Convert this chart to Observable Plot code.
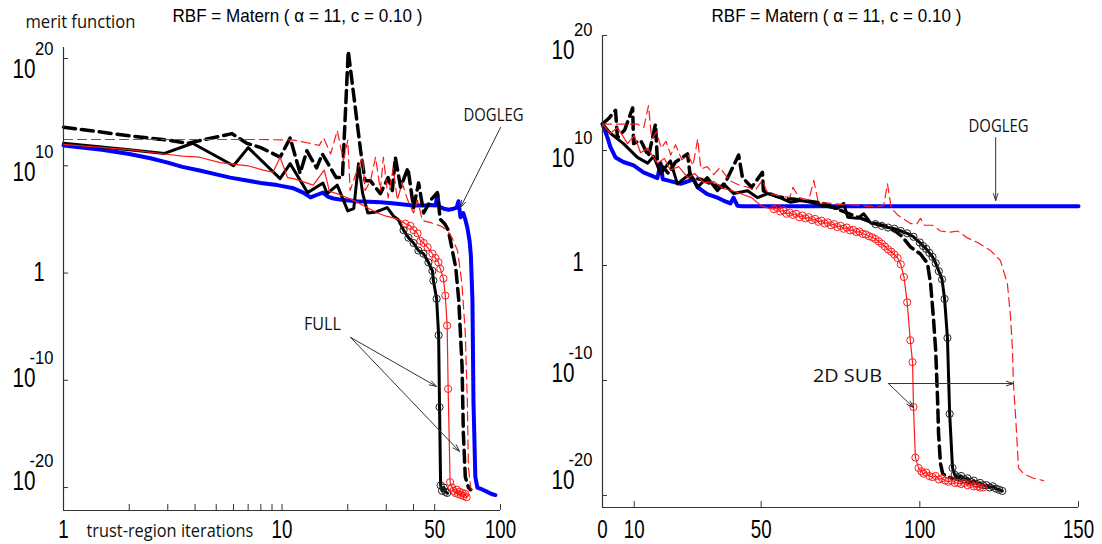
<!DOCTYPE html>
<html><head><meta charset="utf-8">
<script src="https://cdn.jsdelivr.net/npm/d3@7"></script>
<script src="https://cdn.jsdelivr.net/npm/@observablehq/plot@0.6"></script>
<style>
body{margin:0;background:#fff;}
#wrap{display:flex;width:1102px;height:544px;overflow:hidden;}
</style></head><body><div id="wrap"></div>
<script>
// ---------- data: [iteration, log10(merit function)] ----------
const leftBlue = [[1,11.9],[1.5,11.5],[2,11.1],[2.5,10.7],[3,10.3],[3.5,9.9],[4.2,9.56],[5,9.2],[5.8,8.9],[7,8.6],[8,8.4],[9.5,8.2],[11.3,7.9],[12.5,7.5],[13.5,7.05],[14.5,7.3],[15.4,7.5],[16.3,7.1],[17.2,6.95],[19.1,6.8],[22,6.7],[25,6.65],[28.2,6.6],[32,6.5],[36,6.4],[40,6.3],[45,6.3],[48,6.35],[50.5,6.3],[51.4,7.4],[52.3,6.2],[55,6.0],[58,5.9],[61,6.0],[63,6.1],[64.2,6.7],[65.6,5.2],[67.5,5.6],[69,5.0],[70.5,4.25],[72.2,3.0],[73.2,1.6],[74.4,-2.5],[75.2,-11.9],[76.7,-19.0],[78.4,-20.0],[83,-20.2],[87,-20.4],[91,-20.6],[94.8,-20.7]];
const leftBlackSolid = [[1,12.1],[2,11.5],[2.9,11.15],[3.9,12.1],[6,10.0],[7,11.7],[9.8,8.8],[10.9,10.2],[13.1,7.5],[15.4,8.4],[16.1,7.4],[17.9,8.2],[20,5.8],[21.3,6.0],[22.4,10.2],[23.4,7.4],[24.7,5.6],[27,5.7],[30.3,6.1],[32.4,5.3],[34,5.0],[36,4.0],[37.9,3.3],[40,2.8],[42.1,2.1],[44.4,1.8],[46.8,1.0],[48.8,0.2],[49.3,-0.7],[51,-2.4],[52.1,-5.8],[52.6,-12.5],[53.2,-19.8],[54,-20.3],[55,-20.0],[56,-20.4],[57,-20.5]];
const leftBlackDashed = [[1,13.6],[2,12.8],[3,12.4],[3.7,12.1],[5.9,13.0],[6.9,12.1],[8,11.7],[9.8,10.8],[10.9,12.6],[12.1,9.3],[13,11.4],[14.4,9.8],[15.3,11.1],[17.7,8.9],[18.9,8.9],[20.1,20.7],[22.9,11.4],[24,8.6],[25.4,8.6],[28.2,7.4],[30.6,8.9],[32,7.7],[33,10.8],[34.9,8.0],[37.7,9.8],[40,6.1],[42.2,8.4],[44.5,5.6],[47.9,6.8],[51.4,7.5],[53,5.0],[55.5,4.6],[57.7,4.0],[62.4,0.5],[64.4,-2.5],[66.7,-8.7],[67.6,-14.9],[69,-19.0],[71.3,-20.0],[72.9,-20.2]];
const leftRedSolid = [[1,12.0],[2,11.5],[2.9,11.1],[3.5,10.9],[4.2,10.8],[5.2,10.3],[7,10.0],[8.2,9.6],[9.1,9.4],[9.8,10.8],[10.6,8.9],[11.3,8.8],[13.9,8.2],[15.6,9.6],[16.5,7.6],[17.9,7.4],[21.2,6.8],[24,6.2],[27.3,5.6],[30,5.3],[33,5.1],[35,4.9],[36.7,4.6],[38.7,4.4],[40,4.0],[41.7,3.7],[43,3.0],[44.5,2.8],[46.4,2.4],[48.8,1.8],[50.4,1.4],[52,1.0],[53,0.4],[54.8,-0.5],[55.9,-2.1],[57,-4.9],[57.6,-10.8],[58.8,-19.5],[60,-20.0],[61,-20.3],[62,-20.5],[63,-20.2],[64,-20.6],[65,-20.4],[66,-20.7],[67,-20.5],[68,-20.8],[69,-20.6],[70,-20.9]];
const leftRedDashed = [[1,12.45],[4,12.45],[8,12.45],[11.3,12.4],[13,12.15],[14.8,11.9],[15.5,12.6],[16.7,11.1],[17.9,13.3],[19.1,10.5],[20,12.4],[20.5,7.7],[22,9.5],[23.4,10.8],[24,7.7],[25.4,8.6],[26.8,10.8],[28.2,7.7],[29.1,10.8],[30.6,7.0],[32.3,9.8],[33.7,6.8],[35.5,8.4],[37.6,6.8],[40,5.6],[41.7,6.8],[43.9,4.9],[48,4.7],[53,4.4],[57,4.0],[60,3.3],[63.6,2.1],[66.6,-1.0],[69,-5.6],[70.5,-11.9],[71.3,-18.1],[73,-20.0],[74.4,-20.2]];

const rightBlue = [[0,12.3],[1.6,11.1],[2.5,10.3],[4.1,9.4],[6.6,9.0],[9.8,8.7],[12.9,8.1],[17.3,7.6],[18.3,8.9],[19,7.5],[20.5,7.4],[24.6,7.1],[28.7,7.5],[30,6.8],[33,6.2],[36.2,5.9],[38.1,5.65],[40.3,5.4],[41.3,5.9],[42.5,5.2],[44,5.15],[100,5.15],[150,5.15]];
const rightBlackSolid = [[0,12.3],[2.5,11.5],[6.6,10.6],[11,9.4],[14.2,8.9],[16.1,9.5],[18.3,8.0],[21.4,9.1],[23.6,7.1],[27.7,8.0],[29.9,6.8],[33,7.65],[36.2,6.5],[38.1,7.1],[41.3,6.26],[45.7,6.5],[48.9,5.9],[52,6.26],[55.2,6.0],[59.3,5.5],[62.4,5.65],[65.6,5.5],[69.6,5.2],[74.1,4.96],[76,5.4],[77.3,4.2],[80.4,4.1],[82.3,4.5],[84.5,3.7],[86,3.6],[88,3.45],[90,3.3],[92,3.2],[94,3.0],[96,2.8],[98,2.5],[100,2.0],[101,1.7],[102,1.45],[103,1.1],[104,0.75],[105,0.2],[106,-0.5],[107,-1.2],[107.8,-2.9],[108.7,-6.3],[109.4,-12.9],[110.3,-17.6],[111,-18.2],[112,-18.4],[113,-18.3],[114,-18.6],[115,-18.5],[116,-18.8],[117,-18.7],[118,-19.0],[119,-18.9],[120,-19.1],[121,-19.1],[122,-19.3],[123,-19.2],[124,-19.4],[125,-19.5],[126,-19.6]];
const rightBlackDashed = [[0,12.3],[2,12.8],[4.1,13.5],[4.7,11.1],[7,11.8],[9.5,13.7],[9.8,10.6],[12,10.9],[14.5,9.5],[16.7,12.3],[17.3,9.1],[20.8,8.0],[23,9.0],[26.8,9.7],[27.7,7.65],[31,7.5],[35,7.0],[38,6.8],[42.9,9.6],[44.1,7.65],[47,6.8],[50.4,8.1],[50.7,6.5],[55,6.0],[59.3,5.8],[65,5.6],[69.6,5.4],[74.9,4.8],[80.4,4.2],[85.4,3.7],[90.8,3.3],[94.5,2.5],[97.1,1.6],[100.2,1.0],[102.4,0.2],[103.4,-1.6],[104.3,-4.6],[105,-7.4],[105.6,-11.7],[105.9,-14.6],[106.5,-17.2],[107.2,-18.1],[108.7,-18.4],[112,-18.6],[116,-18.9]];
const rightRedSolid = [[0,12.3],[2.5,11.5],[4.7,12.0],[7.9,10.6],[10,11.3],[12,9.8],[14.2,10.2],[17.3,8.9],[19.5,9.3],[21.4,8.3],[24,8.6],[27,7.6],[29,8.0],[32,7.2],[35,7.3],[38,6.7],[41,6.5],[44,6.2],[47,5.9],[50,5.2],[52,5.0],[54,4.9],[55,5.0],[56,4.7],[57,4.8],[58,4.5],[59,4.6],[60,4.4],[61,4.5],[62,4.2],[63,4.35],[64,4.1],[65,4.2],[66,3.95],[67,4.05],[68,3.8],[69,3.9],[70,3.65],[71,3.75],[72,3.5],[73,3.6],[74,3.35],[75,3.45],[76,3.2],[77,3.3],[78,3.05],[79,3.1],[80,2.9],[81,2.95],[82,2.75],[83,2.7],[84,2.55],[85,2.45],[86,2.3],[87,2.1],[88,1.9],[89,1.65],[90,1.4],[91,1.2],[92,0.95],[93,0.65],[94,0.1],[95,-1.0],[96,-3.2],[97,-6.5],[97.7,-8.4],[98,-12.3],[98.6,-16.7],[99.6,-17.6],[100.5,-17.9],[101.2,-18.1],[102,-18.0],[103,-18.3],[104,-18.4],[105,-18.3],[106,-18.6],[107,-18.5],[108,-18.7],[109,-18.8],[110,-18.7],[111,-18.9],[112,-18.9],[113,-19.0],[114,-18.9],[115,-19.1],[116,-19.0],[117,-19.2],[118,-19.2],[119,-19.3],[120,-19.3]];
const rightRedDashed = [[0,12.3],[3,12.3],[7,12.3],[11,12.3],[13,12.0],[14.5,13.9],[15.5,11.0],[17,11.6],[18.5,10.2],[20,10.8],[21.5,9.6],[23,10.5],[25,9.2],[27,9.6],[28.5,8.7],[30,11.0],[31,8.4],[33,8.6],[35,7.9],[37,8.5],[40,7.4],[43,7.0],[46,6.8],[48,6.5],[50.4,7.4],[52,6.3],[55,6.1],[59,5.9],[60,6.8],[62,5.9],[65,5.7],[66.6,7.4],[68,5.5],[72,5.4],[76,5.3],[80,5.25],[86,5.1],[88.6,5.2],[89.8,7.1],[91,5.0],[93,4.4],[97.1,3.65],[99,3.6],[100.2,4.1],[101.5,3.5],[104,3.5],[106.5,3.0],[109.7,2.9],[111.9,3.0],[115,2.4],[118.2,2.0],[122.3,1.3],[125.4,0.43],[127.6,-1.6],[128.6,-4.5],[129.2,-7.4],[129.5,-10.3],[130.2,-13.2],[130.8,-16.1],[131.1,-17.6],[132.7,-18.1],[135.8,-18.5],[139,-18.7]];

// ---------- ticks & labels ----------
const titleText = "RBF = Matern ( \u03b1 = 11, c = 0.10 )";
const yTicks = [20, 10, 0, -10, -20];
const yExpTicks = [20, 10, -10, -20];
const leftXTicks = [2,3,4,5,6,7,8,9,10,20,30,40,50,100];
const leftXLabels = [1, 10, 50, 100];
const rightXTicks = [10, 50, 100, 150];
const rightXLabels = [0, 10, 50, 100, 150];

// ---------- annotations (data coordinates) ----------
const leftNotes = [{label: "DOGLEG", x: 92.9, y: 14.22}, {label: "FULL", x: 15.3, y: -5.35}];
const leftArrows = [{x1: 100, y1: 13.57, x2: 65.6, y2: 6.11}, {x1: 20.6, y1: -6.0, x2: 50.9, y2: -10.57}, {x1: 20.6, y1: -6.0, x2: 64.9, y2: -16.63}];
const rightNotes = [{label: "DOGLEG", x: 124.8, y: 11.57}, {label: "2D SUB", x: 77.2, y: -10.1}];
const rightArrows = [{x1: 123.9, y1: 11.13, x2: 123.9, y2: 5.65}, {x1: 90.1, y1: -10.26, x2: 129.5, y2: -10.26}, {x1: 90.1, y1: -10.26, x2: 98, y2: -12.35}];

const noteWidths = {"DOGLEG": 60, "FULL": 37, "2D SUB": 69};
const sans = "'Liberation Sans', Arial, sans-serif";
const open = "'Open Sans', 'Noto Sans', sans-serif";
const axisColor = "#333";

function seriesMarks(bs, bd, rs, rd, bl, bCirc, rCirc) {
  const X = d => d[0], Y = d => d[1];
  return [
    Plot.line(bl, {x: X, y: Y, stroke: "#0000ff", strokeWidth: 4}),
    Plot.line(bd, {x: X, y: Y, stroke: "#000", strokeWidth: 3.5, strokeDasharray: "12,6"}),
    Plot.line(bs, {x: X, y: Y, stroke: "#000", strokeWidth: 3}),
    Plot.dot(bs.filter(d => d[0] >= bCirc), {x: X, y: Y, r: 3.6, stroke: "#222", strokeWidth: 1, fill: "none"}),
    Plot.line(rd, {x: X, y: Y, stroke: "#ff1a1a", strokeWidth: 1.2, strokeDasharray: "9,5"}),
    Plot.line(rs, {x: X, y: Y, stroke: "#ff1a1a", strokeWidth: 1.2}),
    Plot.dot(rs.filter(d => d[0] >= rCirc), {x: X, y: Y, r: 3.6, stroke: "#ff1a1a", strokeWidth: 1, fill: "none"})
  ];
}

function yLabelMarks(k, c) {
  const pos = d => k * d + c;
  return [
    Plot.text(yExpTicks, {y: pos, text: () => "10", frameAnchor: "left", textAnchor: "end", lineAnchor: "bottom", dx: -28, fontSize: 28, fill: "#000", ariaLabel: () => "ybase"}),
    Plot.text(yExpTicks, {y: pos, text: d => String(d), frameAnchor: "left", textAnchor: "end", lineAnchor: "bottom", dx: -10, dy: -23, fontSize: 18, fill: "#000", ariaLabel: () => "yexp"}),
    Plot.text([0], {y: pos, text: () => "1", frameAnchor: "left", textAnchor: "end", lineAnchor: "bottom", dx: -19, dy: -3, fontSize: 27, fill: "#000", ariaLabel: () => "yone"})
  ];
}

// ---------- left panel ----------
const LY0 = -22.14, LY1 = 21.03;
const left = Plot.plot({
  width: 551, height: 544,
  marginLeft: 63, marginRight: 51, marginTop: 47, marginBottom: 34,
  style: {fontFamily: sans, background: "white", overflow: "visible"},
  x: {type: "log", domain: [1, 100], axis: null},
  y: {domain: [LY0, LY1], axis: null},
  marks: [
    ...seriesMarks(leftBlackSolid, leftBlackDashed, leftRedSolid, leftRedDashed, leftBlue, 36, 36.5),
    Plot.ruleX([1], {stroke: axisColor, strokeWidth: 1.2}),
    Plot.ruleY([LY0], {stroke: axisColor, strokeWidth: 1.2}),
    Plot.ruleX(leftXTicks, {y1: LY0, y2: LY0, insetBottom: 6, stroke: axisColor}),
    Plot.ruleY(yTicks, {x1: 1, x2: 1, insetLeft: 5, stroke: axisColor}),
    Plot.text(leftXLabels, {x: d => d, text: d => String(d), frameAnchor: "bottom", lineAnchor: "bottom", dy: 27, fontSize: 26, fill: "#000", ariaLabel: () => "xlab"}),
    ...yLabelMarks(0.96, -1.03),
    Plot.arrow(leftArrows, {x1: "x1", y1: "y1", x2: "x2", y2: "y2", stroke: "#333", strokeWidth: 1, headLength: 11, headAngle: 36}),
    Plot.text(leftNotes, {x: "x", y: "y", text: "label", lineAnchor: "bottom", fontSize: 19, fontFamily: open, fill: "#111", ariaLabel: () => "notes"}),
    Plot.text([titleText], {frameAnchor: "top-left", textAnchor: "start", lineAnchor: "bottom", dx: 109, dy: -26, fontSize: 19, fill: "#000", ariaLabel: () => "title"}),
    Plot.text(["merit function"], {frameAnchor: "top-left", textAnchor: "start", lineAnchor: "bottom", dx: -38, dy: -20, fontSize: 19, fontFamily: open, fill: "#111", ariaLabel: () => "ylabel"}),
    Plot.text(["trust-region iterations"], {frameAnchor: "bottom-left", textAnchor: "start", lineAnchor: "bottom", dx: 23, dy: 26, fontSize: 19, fontFamily: open, fill: "#111", ariaLabel: () => "xlabel"})
  ]
});

// ---------- right panel ----------
const RY0 = -21.04, RY1 = 20;
const right = Plot.plot({
  width: 551, height: 544,
  marginLeft: 51, marginRight: 24, marginTop: 35, marginBottom: 37,
  style: {fontFamily: sans, background: "white", overflow: "visible"},
  x: {domain: [0, 150], axis: null},
  y: {domain: [RY0, RY1], axis: null},
  marks: [
    ...seriesMarks(rightBlackSolid, rightBlackDashed, rightRedSolid, rightRedDashed, rightBlue, 86, 54),
    Plot.ruleX([0], {stroke: axisColor, strokeWidth: 1.2}),
    Plot.ruleY([RY0], {stroke: axisColor, strokeWidth: 1.2}),
    Plot.ruleX(rightXTicks, {y1: RY0, y2: RY0, insetBottom: 6, stroke: axisColor}),
    Plot.ruleY(yTicks, {x1: 0, x2: 0, insetLeft: 5, stroke: axisColor}),
    Plot.text(rightXLabels, {x: d => d, text: d => String(d), frameAnchor: "bottom", lineAnchor: "bottom", dy: 30, fontSize: 26, fill: "#000", ariaLabel: () => "xlab"}),
    ...yLabelMarks(0.935, -0.77),
    Plot.arrow(rightArrows, {x1: "x1", y1: "y1", x2: "x2", y2: "y2", stroke: "#333", strokeWidth: 1, headLength: 11, headAngle: 36}),
    Plot.text(rightNotes, {x: "x", y: "y", text: "label", lineAnchor: "bottom", fontSize: 19, fontFamily: open, fill: "#111", ariaLabel: () => "notes"}),
    Plot.text([titleText], {frameAnchor: "top-left", textAnchor: "start", lineAnchor: "bottom", dx: 109, dy: -14, fontSize: 19, fill: "#000", ariaLabel: () => "title"})
  ]
});

const wrap = document.getElementById("wrap");
wrap.appendChild(left);
wrap.appendChild(right);

// horizontal condensing of text (the reference typography is narrow)
function scaleText(t, f) {
  const tr = t.getAttribute("transform");
  if (tr) t.setAttribute("transform", tr + ` scale(${f},1)`);
  else {
    const x = +t.getAttribute("x") || 0;
    t.setAttribute("transform", `translate(${x},0) scale(${f},1) translate(${-x},0)`);
  }
}
function textsOf(svg, label) {
  return [...svg.querySelectorAll(`[aria-label="${label}"]`)]
    .flatMap(e => e.tagName.toLowerCase() === "text" ? [e] : [...e.querySelectorAll("text")]);
}
function squeeze(svg, label, f) {
  textsOf(svg, label).forEach(t => scaleText(t, f));
}
function fit(svg, label, wOf) {
  textsOf(svg, label).forEach(t => {
    const w = t.getBBox().width;
    const target = wOf(t.textContent);
    if (w > 0 && target) scaleText(t, target / w);
  });
}
for (const svg of [left, right]) {
  squeeze(svg, "xlab", 0.72);
  squeeze(svg, "ybase", 0.74);
  squeeze(svg, "yexp", 0.92);
  squeeze(svg, "yone", 0.74);
  fit(svg, "title", () => 250);
  fit(svg, "notes", s => noteWidths[s]);
}
fit(left, "ylabel", () => 110);
fit(left, "xlabel", () => 167);
</script></body></html>
